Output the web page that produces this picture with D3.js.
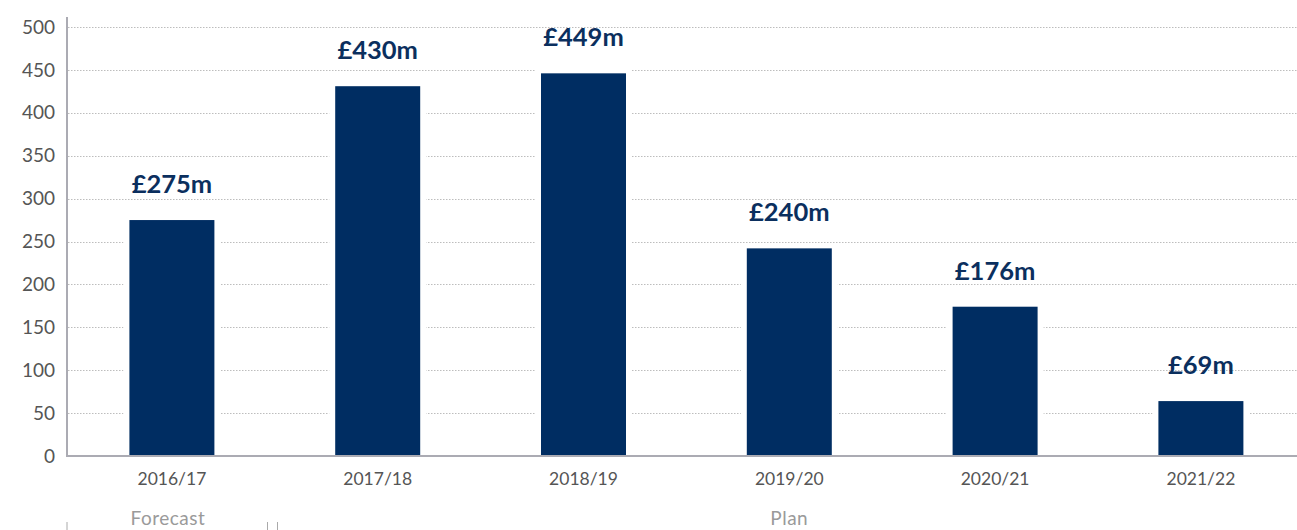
<!DOCTYPE html>
<html><head><meta charset="utf-8">
<script src="https://cdn.jsdelivr.net/npm/d3@7/dist/d3.min.js"></script>
<style>body{margin:0;background:#fff}svg{display:block}</style>
</head><body>
<svg id="c" width="1297" height="530"></svg>
<script>
const categories = ["2016/17","2017/18","2018/19","2019/20","2020/21","2021/22"];
const values = [275, 431, 446, 242, 174, 64];
const valueLabels = ["£275m","£430m","£449m","£240m","£176m","£69m"];
const yTicks = [0,50,100,150,200,250,300,350,400,450,500];
const groups = [{name:"Forecast", from:0, to:0}, {name:"Plan", from:1, to:5}];

const svg = d3.select("#c");
const W = 1297;
const x = d3.scaleBand().domain(categories).range([69, 69 + 6*205.8]).paddingInner(0.587).paddingOuter(0.2935);
const y = d3.scaleLinear().domain([0,500]).range([456, 27]);
const font = "Lato, 'Open Sans', sans-serif";

// gridlines
svg.append("g").selectAll("line").data(yTicks.filter(d=>d>0)).join("line")
  .attr("x1",68).attr("x2",W).attr("y1",d=>Math.round(y(d))+0.5).attr("y2",d=>Math.round(y(d))+0.5)
  .attr("stroke","#bdbdbd").attr("stroke-width",1).attr("stroke-dasharray","1.5,1.5");

// white gap behind bars
svg.append("g").selectAll("rect").data(values).join("rect")
  .attr("x",(d,i)=>x(categories[i])-6).attr("width",x.bandwidth()+12)
  .attr("y",d=>y(d)-4).attr("height",d=>y(0)-y(d)+4).attr("fill","#fff");

// bars
svg.append("g").selectAll("rect").data(values).join("rect")
  .attr("x",(d,i)=>x(categories[i])).attr("width",x.bandwidth())
  .attr("y",d=>y(d)).attr("height",d=>y(0)-y(d)).attr("fill","#002d62");

// value labels
svg.append("g").selectAll("text").data(values).join("text")
  .attr("x",(d,i)=>x(categories[i])+x.bandwidth()/2).attr("y",d=>y(d)-27)
  .attr("text-anchor","middle").attr("font-family",font).attr("font-weight","bold")
  .attr("font-size",25.5).attr("fill","#0b2f5e").text((d,i)=>valueLabels[i]);

// axes lines
svg.append("line").attr("x1",67).attr("x2",67).attr("y1",17).attr("y2",457).attr("stroke","#ababb3").attr("stroke-width",2);
svg.append("line").attr("x1",66).attr("x2",W).attr("y1",456).attr("y2",456).attr("stroke","#ababb3").attr("stroke-width",2);

// y tick labels
svg.append("g").selectAll("text").data(yTicks).join("text")
  .attr("x",55).attr("y",d=>y(d)).attr("dy","0.35em").attr("text-anchor","end")
  .attr("font-family",font).attr("font-size",19).attr("fill","#555").text(d=>d);

// x tick labels
svg.append("g").selectAll("text").data(categories).join("text")
  .attr("x",d=>x(d)+x.bandwidth()/2).attr("y",485).attr("text-anchor","middle")
  .attr("font-family",font).attr("font-size",17.5).attr("fill","#555").text(d=>d);

// group labels
svg.append("g").selectAll("text").data(groups).join("text")
  .attr("x",g=> g.from===g.to ? x(categories[g.from])+x.bandwidth()/2 - 4 : (x(categories[g.from]) + x(categories[g.to])+x.bandwidth())/2 )
  .attr("y",525).attr("text-anchor","middle").attr("font-family",font).attr("font-size",19)
  .attr("letter-spacing","0.5px").attr("fill","#9a9a9a").text(g=>g.name);

// bracket ticks
const bx = [67, 267.5, 277.5];
svg.append("g").selectAll("line").data(bx).join("line")
  .attr("x1",d=>d).attr("x2",d=>d).attr("y1",522).attr("y2",530)
  .attr("stroke","#aaa").attr("stroke-width",1);
</script>
</body></html>
